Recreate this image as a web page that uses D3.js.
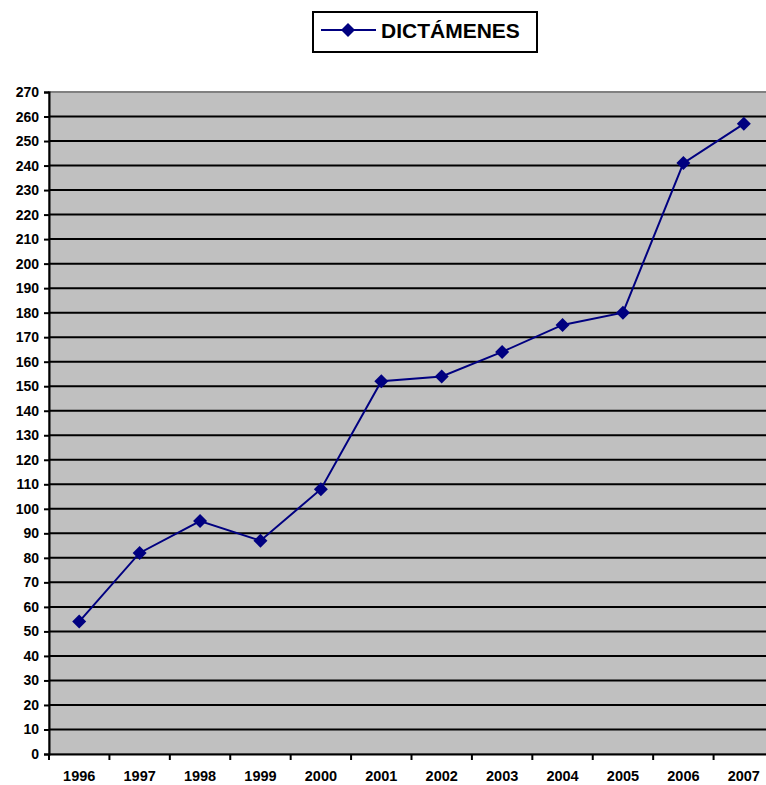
<!DOCTYPE html>
<html>
<head>
<meta charset="utf-8">
<script src="https://cdn.jsdelivr.net/npm/d3@7"></script>
<style>
  body { margin: 0; background: #fff; }
  text { font-family: Arial, "Liberation Sans", sans-serif; font-weight: bold; }
</style>
</head>
<body>
<div id="chart"></div>
<script>
var years = ["1996","1997","1998","1999","2000","2001","2002","2003","2004","2005","2006","2007"];
var dictamenes = [54, 82, 95, 87, 108, 152, 154, 164, 175, 180, 241, 257];
var yTicks = d3.range(0, 271, 10);

var width = 766, height = 785;
var plotLeft = 49, plotRight = 774, plotTop = 92, plotBottom = 754;

var svg = d3.select("#chart").append("svg")
    .attr("width", width)
    .attr("height", height);

var x = d3.scaleBand().domain(years).range([plotLeft, plotRight]);
var y = d3.scaleLinear().domain([0, 270]).range([plotBottom, plotTop]);

// plot area
svg.append("rect")
    .attr("x", plotLeft).attr("y", plotTop)
    .attr("width", plotRight - plotLeft).attr("height", plotBottom - plotTop)
    .attr("fill", "#C0C0C0")
    .attr("stroke", "#808080")
    .attr("stroke-width", 2);

// gridlines
svg.selectAll(".grid")
    .data(yTicks.filter(function(d){ return d > 0 && d < 270; }))
    .enter().append("line")
    .attr("x1", plotLeft).attr("x2", plotRight)
    .attr("y1", function(d){ return y(d); })
    .attr("y2", function(d){ return y(d); })
    .attr("stroke", "#000")
    .attr("stroke-width", 2);

// y axis
var yAxis = svg.append("g")
    .attr("transform", "translate(" + plotLeft + ",0)")
    .call(d3.axisLeft(y).tickValues(yTicks).tickSize(5).tickPadding(5));
yAxis.select(".domain").attr("stroke", "#000").attr("stroke-width", 2);
yAxis.selectAll(".tick line").attr("stroke", "#000").attr("stroke-width", 2);
yAxis.selectAll("text").attr("font-size", 14).attr("fill", "#000");

// x axis
var xAxis = svg.append("g")
    .attr("transform", "translate(0," + plotBottom + ")")
    .call(d3.axisBottom(x).tickSize(0).tickPadding(17));
xAxis.select(".domain").attr("stroke", "#000").attr("stroke-width", 2);
xAxis.selectAll("text").attr("font-size", 14.5).attr("fill", "#000");
svg.selectAll(".xtick")
    .data(years)
    .enter().append("line")
    .attr("x1", function(d){ return x(d); })
    .attr("x2", function(d){ return x(d); })
    .attr("y1", plotBottom).attr("y2", plotBottom + 6)
    .attr("stroke", "#000").attr("stroke-width", 2);

// series line
var line = d3.line()
    .x(function(d, i){ return x(years[i]) + x.bandwidth() / 2; })
    .y(function(d){ return y(d); });

svg.append("path")
    .datum(dictamenes)
    .attr("d", line)
    .attr("fill", "none")
    .attr("stroke", "#000080")
    .attr("stroke-width", 2);

svg.selectAll(".pt")
    .data(dictamenes)
    .enter().append("path")
    .attr("d", "M0,-7L7,0L0,7L-7,0Z")
    .attr("transform", function(d, i){
        return "translate(" + (x(years[i]) + x.bandwidth() / 2) + "," + y(d) + ")";
    })
    .attr("fill", "#000080");

// legend
var legend = svg.append("g");
legend.append("rect")
    .attr("x", 313).attr("y", 12)
    .attr("width", 224).attr("height", 40)
    .attr("fill", "#fff")
    .attr("stroke", "#000")
    .attr("stroke-width", 2);
legend.append("line")
    .attr("x1", 321).attr("x2", 376)
    .attr("y1", 30).attr("y2", 30)
    .attr("stroke", "#000080").attr("stroke-width", 2);
legend.append("path")
    .attr("d", "M0,-7L7,0L0,7L-7,0Z")
    .attr("transform", "translate(348,30)")
    .attr("fill", "#000080");
legend.append("text")
    .attr("x", 381).attr("y", 38)
    .attr("font-size", 21)
    .attr("fill", "#000")
    .text("DICTÁMENES");
</script>
</body>
</html>
